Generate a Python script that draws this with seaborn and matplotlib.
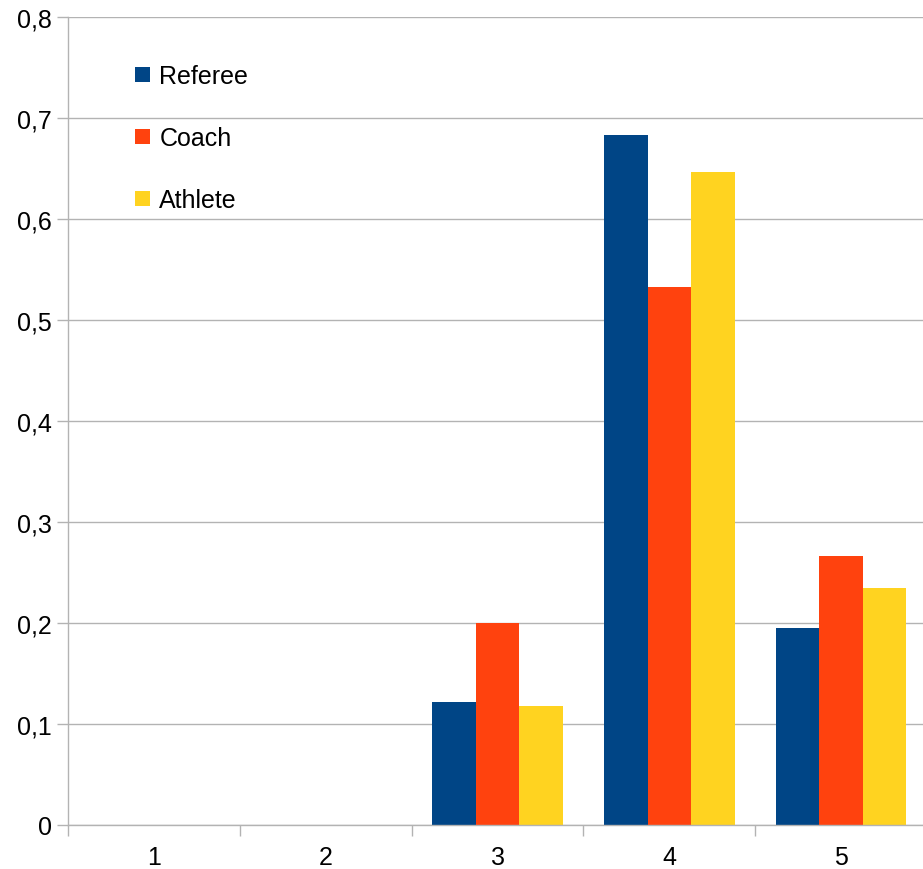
import pandas as pd
import matplotlib
matplotlib.use('Agg')
import matplotlib.pyplot as plt
import seaborn as sns
from matplotlib.ticker import FuncFormatter, FixedLocator

# Values
categories = ['1', '2', '3', '4', '5']
referee = [0, 0, 0.122, 0.683, 0.195]
coach = [0, 0, 0.200, 0.533, 0.266]
athlete = [0, 0, 0.118, 0.647, 0.235]
series_names = ['Referee', 'Coach', 'Athlete']
colors = ['#004586', '#ff420e', '#ffd320']

df = pd.DataFrame({'Category': categories * 3,
                   'Group': [s for s in series_names for _ in categories],
                   'Value': referee + coach + athlete})

sns.set_style('white')
plt.rcParams['font.family'] = ['Liberation Sans', 'DejaVu Sans']

fig = plt.figure(figsize=(9.23, 8.7), dpi=100)
# plot area runs slightly past the right edge, like the original
ax = fig.add_axes([68 / 923, 44 / 870, 859 / 923, 808 / 870])

sns.barplot(data=df, x='Category', y='Value', hue='Group', palette=colors,
            width=0.76, saturation=1, linewidth=0, ax=ax, legend=True)

ax.set_ylim(0, 0.8)
ax.set_xlim(-0.5, 4.5)
ax.set_yticks([i / 10 for i in range(9)])
ax.yaxis.set_major_formatter(FuncFormatter(lambda v, p: '0' if v == 0 else f'{v:.1f}'.replace('.', ',')))
ax.yaxis.grid(True, color='#b3b3b3', linewidth=1)
ax.set_axisbelow(True)
ax.set_xlabel('')
ax.set_ylabel('')

for side in ['top', 'right']:
    ax.spines[side].set_visible(False)
for side in ['left', 'bottom']:
    ax.spines[side].set_color('#b3b3b3')
    ax.spines[side].set_linewidth(1)

ax.xaxis.set_minor_locator(FixedLocator([-0.5, 0.5, 1.5, 2.5, 3.5, 4.5]))
ax.tick_params(axis='x', which='major', length=0, pad=14.5, labelsize=18, colors='black')
ax.tick_params(axis='x', which='minor', length=8, color='#b3b3b3', width=1, bottom=True)
ax.tick_params(axis='y', length=8, color='#b3b3b3', width=1, pad=3.5, labelsize=18,
               left=True, labelcolor='black')

handles, labels = ax.get_legend_handles_labels()
ax.legend(handles, labels, loc='upper left', bbox_to_anchor=(0.061, 0.96),
          frameon=False, fontsize=18, handlelength=0.6, handleheight=0.6,
          handletextpad=0.36, labelspacing=1.52, borderaxespad=0.2, labelcolor='black')

fig.savefig('out.png', dpi=100)
